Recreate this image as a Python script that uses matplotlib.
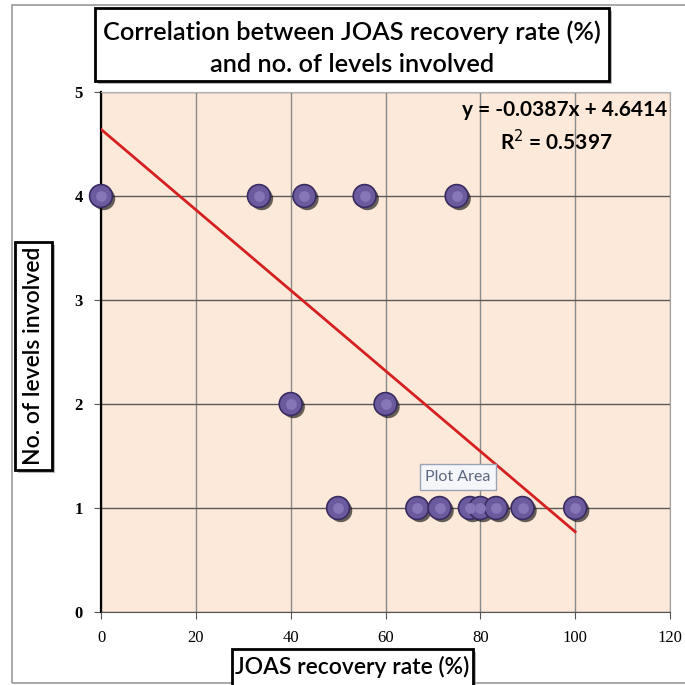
import numpy as np
import matplotlib
matplotlib.use("Agg")
import matplotlib.pyplot as plt
import matplotlib.patches as mpatches
import matplotlib.patheffects as pe

# data
rate = [0, 33.3, 42.9, 55.6, 75, 40, 60, 50, 66.7, 71.4, 77.8, 80, 83.3, 88.9, 100]
levels = [4, 4, 4, 4, 4, 2, 2, 1, 1, 1, 1, 1, 1, 1, 1]
slope = -0.0387
intercept = 4.6414
r2 = 0.5397
xticks = [0, 20, 40, 60, 80, 100, 120]
yticks = [0, 1, 2, 3, 4, 5]

W = 685.0
def fx(p):
    return p / W
def fy(p):
    return 1 - p / W

fig = plt.figure(figsize=(6.85, 6.85), dpi=100)
ax = fig.add_axes([fx(101), fy(612), fx(670 - 101), (612 - 92) / W])
ax.set_facecolor('#fde9d9')
ax.set_xlim(0, 120)
ax.set_ylim(0, 5)
ax.set_xticks(xticks)
ax.set_yticks(yticks)
ax.grid(axis='x', color='#8a8a8a', lw=1)
ax.grid(axis='y', color='#5a5a5a', lw=1)
ax.set_axisbelow(True)
ax.spines['left'].set_color('black')
ax.spines['left'].set_linewidth(1.6)
ax.spines['bottom'].set_color('#555555')
ax.spines['top'].set_color('#b0b0b0')
ax.spines['right'].set_color('#a0a0a0')
ax.tick_params(direction='out', length=5, color='#555555', pad=8)
for t in ax.get_xticklabels():
    t.set_fontfamily('Liberation Serif')
    t.set_fontsize(12)
for t in ax.get_yticklabels():
    t.set_fontfamily('Liberation Serif')
    t.set_fontsize(12)
    t.set_fontweight('bold')

# trendline across the data range
xl = np.array([min(rate), max(rate)])
ax.plot(xl, slope * xl + intercept, color='#d42020', lw=2, zorder=3)

# glossy purple markers with shadow
ax.scatter(rate, levels, s=270, color='#6c5a9f', edgecolor='#3a2c60', lw=1.2,
           zorder=4, clip_on=False,
           path_effects=[pe.SimplePatchShadow(offset=(2, -2), shadow_rgbFace='black', alpha=0.6),
                         pe.Normal()])
ax.scatter(rate, levels, s=60, color='#8676b8', lw=0, zorder=5, clip_on=False)

ax.text(0.995, 0.965, 'y = %.4fx + %.4f' % (slope, intercept), transform=ax.transAxes,
        ha='right', va='center', fontsize=15, fontweight='bold', family='Lato')
ax.text(0.80, 0.905, 'R$^2$ = %.4f' % r2, transform=ax.transAxes,
        ha='center', va='center', fontsize=15, fontweight='bold', family='Lato')

# tooltip left on the screenshot
fig.text(fx(458), fy(477), 'Plot Area', ha='center', va='center', fontsize=11.5,
         color='#5c6780', family='Lato',
         bbox=dict(boxstyle='square,pad=0.35', fc='#f4f6fa', ec='#9aa3b5', lw=1))

def boxed(x0, y0, x1, y1):
    sh = mpatches.Rectangle((fx(x0 + 3), fy(y1 + 3)), fx(x1 - x0), (y1 - y0) / W,
                            transform=fig.transFigure, fc='#888888', ec='none',
                            alpha=0.6, zorder=9)
    bx = mpatches.Rectangle((fx(x0), fy(y1)), fx(x1 - x0), (y1 - y0) / W,
                            transform=fig.transFigure, fc='white', ec='black',
                            lw=2, zorder=10)
    fig.patches.extend([sh, bx])

# outer chart border
fig.patches.append(mpatches.Rectangle((fx(12), fy(683)), fx(700 - 12), (683 - 5) / W,
                                      transform=fig.transFigure, fc='none',
                                      ec='#9a9a9a', lw=1.2, zorder=1))

boxed(95, 8, 609, 81)
fig.text(fx(352), fy(32), 'Correlation between JOAS recovery rate (%)', ha='center',
         va='center', fontsize=18.3, family='Lato', fontweight='semibold', zorder=11)
fig.text(fx(352), fy(65), 'and no. of levels involved', ha='center',
         va='center', fontsize=18.3, family='Lato', fontweight='semibold', zorder=11)

boxed(15, 242, 52, 470)
fig.text(fx(34), fy(356), 'No. of levels involved', ha='center', va='center',
         rotation=90, fontsize=16.5, family='Lato', fontweight='semibold', zorder=11)

boxed(232, 649, 473, 700)
fig.text(fx(352), fy(667), 'JOAS recovery rate (%)', ha='center', va='center',
         fontsize=16.5, family='Lato', fontweight='semibold', zorder=11)

fig.savefig('out.png', dpi=100)
